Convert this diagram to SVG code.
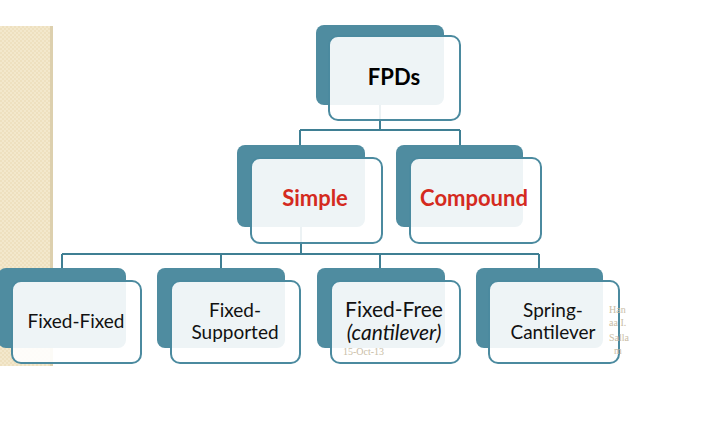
<svg xmlns="http://www.w3.org/2000/svg" width="703" height="444" viewBox="0 0 703 444">
<style>
.back{fill:#4f8ca0;}
.front{fill:#ffffff;fill-opacity:0.9;stroke:#4b8a9f;stroke-width:2;}
.conn{fill:none;stroke:#3f7f93;stroke-width:2;}
.title{font-family:Lato,"Open Sans",sans-serif;font-weight:bold;font-size:22px;text-anchor:middle;}
.red{fill:#d42a20;}
.lbl{font-family:Lato,"Open Sans",sans-serif;font-size:19px;fill:#111;text-anchor:middle;}
.big{font-size:21px;}
.foot{font-family:"Liberation Serif",serif;font-size:10px;fill:#c9bda6;}
</style>
<defs>
<pattern id="tex" width="4" height="4" patternUnits="userSpaceOnUse">
<rect width="4" height="4" fill="#f3e8cc"/>
<rect width="2" height="2" fill="#eee0bf"/>
<rect x="2" y="2" width="2" height="2" fill="#eee0bf"/>
</pattern>
</defs>
<rect width="703" height="444" fill="#ffffff"/>
<rect x="0" y="26" width="52" height="340" fill="url(#tex)"/>
<rect x="50" y="26" width="3" height="340" fill="#ddd0ae"/>
<g id="connectors">
<path class="conn" d="M380 105 V130 M300 130 H460 M300 130 V145 M460 130 V145"/>
<path class="conn" d="M301 227 V254 M62 254 H539 M62 254 V268 M221 254 V268 M380 254 V268 M539 254 V268"/>
</g>
<g id="fpds">
<rect class="back" x="316" y="25" width="128" height="80" rx="8"/>
<rect class="front" x="329" y="36" width="131" height="84" rx="9"/>
<text class="title" x="394" y="85">FPDs</text>
</g>
<g id="simple">
<rect class="back" x="237" y="145" width="128" height="82" rx="8"/>
<rect class="front" x="251" y="158" width="131" height="85" rx="9"/>
<text class="title red" x="315" y="206">Simple</text>
</g>
<g id="compound">
<rect class="back" x="396" y="145" width="127" height="82" rx="8"/>
<rect class="front" x="410" y="158" width="131" height="85" rx="9"/>
<text class="title red" x="474" y="206">Compound</text>
</g>
<g id="fixed-fixed">
<rect class="back" x="-2" y="268" width="128" height="80" rx="8"/>
<rect class="front" x="12" y="281" width="129" height="82" rx="9"/>
<text class="lbl" x="76" y="328">Fixed-Fixed</text>
</g>
<g id="fixed-supported">
<rect class="back" x="157" y="268" width="128" height="80" rx="8"/>
<rect class="front" x="171" y="281" width="129" height="82" rx="9"/>
<text class="lbl" x="235" y="317">Fixed-</text>
<text class="lbl" x="235" y="339">Supported</text>
</g>
<g id="fixed-free">
<rect class="back" x="317" y="268" width="128" height="80" rx="8"/>
<rect class="front" x="331" y="281" width="129" height="82" rx="9"/>
<text class="lbl big" x="394" y="317">Fixed-Free</text>
<text class="lbl big" x="394" y="340" font-style="italic">(cantilever)</text>
</g>
<g id="spring-cantilever">
<rect class="back" x="476" y="268" width="127" height="80" rx="8"/>
<rect class="front" x="489" y="281" width="130" height="82" rx="9"/>
<text class="lbl" x="553" y="317">Spring-</text>
<text class="lbl" x="553" y="339">Cantilever</text>
</g>
<text class="foot" x="343" y="355">15-Oct-13</text>
<text class="foot" x="609" y="313">Han</text>
<text class="foot" x="609" y="326">aa I.</text>
<text class="foot" x="609" y="341">Salla</text>
<text class="foot" x="614" y="354">m</text>
</svg>
